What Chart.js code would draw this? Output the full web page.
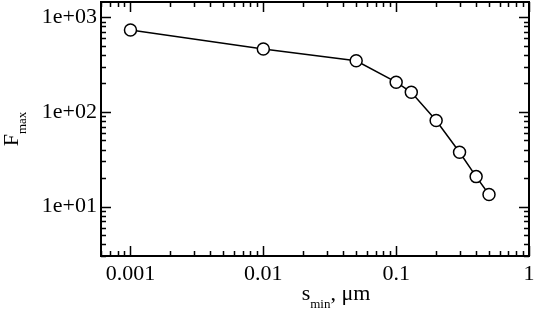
<!DOCTYPE html>
<html>
<head>
<meta charset="utf-8">
<script src="https://cdn.jsdelivr.net/npm/chart.js@4.4.1/dist/chart.umd.min.js"></script>
<style>
html, body { margin: 0; padding: 0; background: #fff; }
</style>
</head>
<body>
<canvas id="fmaxChart" width="534" height="309"></canvas>
<script>
// data
const sMin = [0.001, 0.01, 0.05, 0.1, 0.13, 0.2, 0.3, 0.4, 0.5];
const fMax = [735, 463, 347, 206, 161, 81, 37.5, 20.7, 13.4];

const xTickValues = [0.001, 0.01, 0.1, 1];
const xTickLabels = ['0.001', '0.01', '0.1', '1'];
const yTickValues = [10, 100, 1000];
const yTickLabels = ['1e+01', '1e+02', '1e+03'];
const xRange = [0.0006, 1];
const yRange = [3, 1450];

const FONT = '"Liberation Serif", "Times New Roman", serif';

// all 1..9 x 10^n values inside [min, max], m===1 is a major tick
function logTicks(min, max) {
    const out = [];
    for (let e = Math.floor(Math.log10(min)); e <= Math.ceil(Math.log10(max)); e++) {
        for (let m = 1; m < 10; m++) {
            const v = m * Math.pow(10, e);
            if (v >= min * 0.999 && v <= max * 1.001) out.push({ v: v, major: m === 1 });
        }
    }
    return out;
}

//frame, inward ticks on all four sides, axis titles with subscripts
const framePlugin = {
    id: 'frame',
    afterDraw(chart) {
        const c = chart.ctx;
        const a = chart.chartArea;
        const xs = chart.scales.x;
        const ys = chart.scales.y;
        c.save();
        c.strokeStyle = '#000';
        c.lineWidth = 1.5;
        c.beginPath();
        logTicks(xRange[0], xRange[1]).forEach(t => {
            const px = Math.round(xs.getPixelForValue(t.v)) + 0.5;
            const len = t.major ? 10 : 5;
            c.moveTo(px, a.bottom); c.lineTo(px, a.bottom - len);
            c.moveTo(px, a.top); c.lineTo(px, a.top + len);
        });
        logTicks(yRange[0], yRange[1]).forEach(t => {
            const py = Math.round(ys.getPixelForValue(t.v)) + 0.5;
            const len = t.major ? 10 : 5;
            c.moveTo(a.left, py); c.lineTo(a.left + len, py);
            c.moveTo(a.right, py); c.lineTo(a.right - len, py);
        });
        c.stroke();
        c.lineWidth = 2;
        c.strokeRect(a.left, a.top, a.right - a.left, a.bottom - a.top);

        c.fillStyle = '#000';
        c.textBaseline = 'alphabetic';
        c.textAlign = 'left';
        // x title: s_min, μm
        const big = '22px ' + FONT, small = '13px ' + FONT;
        c.font = big;
        const wS = c.measureText('s').width;
        const wRest = c.measureText(', \u03bcm').width;
        c.font = small;
        const wSub = c.measureText('min').width;
        let x0 = (a.left + a.right) / 2 + 21 - (wS + wSub + wRest) / 2;
        const yb = 300;
        c.font = big; c.fillText('s', x0, yb);
        c.font = small; c.fillText('min', x0 + wS, yb + 8);
        c.font = big; c.fillText(', \u03bcm', x0 + wS + wSub, yb);

        // y title: F_max, rotated
        c.font = big;
        const wF = c.measureText('F').width;
        c.font = small;
        const wMax = c.measureText('max').width;
        c.translate(18, (a.top + a.bottom) / 2);
        c.rotate(-Math.PI / 2);
        const y0 = -(wF + wMax) / 2;
        c.font = big; c.fillText('F', y0, 0);
        c.font = small; c.fillText('max', y0 + wF, 8);
        c.restore();
    }
};

const ctx = document.getElementById('fmaxChart');

const fmaxChart = new Chart(ctx, {
    type: 'line',
    data: {
        datasets: [{
            data: sMin.map((s, i) => ({ x: s, y: fMax[i] })),
            borderColor: '#000',
            borderWidth: 1.5,
            backgroundColor: '#fff',
            pointRadius: 6,
            pointBorderWidth: 1.5,
            pointBorderColor: '#000',
            pointBackgroundColor: '#fff',
            fill: false,
            tension: 0
        }]
    },
    options: {
        responsive: false,
        animation: false,
        devicePixelRatio: 1,
        layout: {
            autoPadding: false,
            padding: { top: 2, right: 5, left: 0, bottom: 0 }
        },
        plugins: {
            legend: { display: false },
            tooltip: { enabled: false }
        },
        scales: {
            x: {
                type: 'logarithmic',
                min: xRange[0],
                max: xRange[1],
                afterBuildTicks: s => { s.ticks = xTickValues.map(v => ({ value: v })); },
                afterFit: s => { s.height = 53; s.paddingLeft = 0; s.paddingRight = 0; },
                grid: { display: false, drawTicks: false },
                border: { display: false },
                ticks: {
                    autoSkip: false,
                    maxRotation: 0,
                    padding: 5,
                    color: '#000',
                    font: { family: FONT, size: 22 },
                    callback: (v, i) => xTickLabels[i]
                }
            },
            y: {
                type: 'logarithmic',
                min: yRange[0],
                max: yRange[1],
                afterBuildTicks: s => { s.ticks = yTickValues.map(v => ({ value: v })); },
                afterFit: s => { s.width = 101; s.paddingTop = 0; s.paddingBottom = 0; },
                grid: { display: false, drawTicks: false },
                border: { display: false },
                ticks: {
                    autoSkip: false,
                    padding: 4,
                    color: '#000',
                    font: { family: FONT, size: 22 },
                    callback: (v, i) => yTickLabels[i]
                }
            }
        }
    },
    plugins: [framePlugin]
});
</script>
</body>
</html>
